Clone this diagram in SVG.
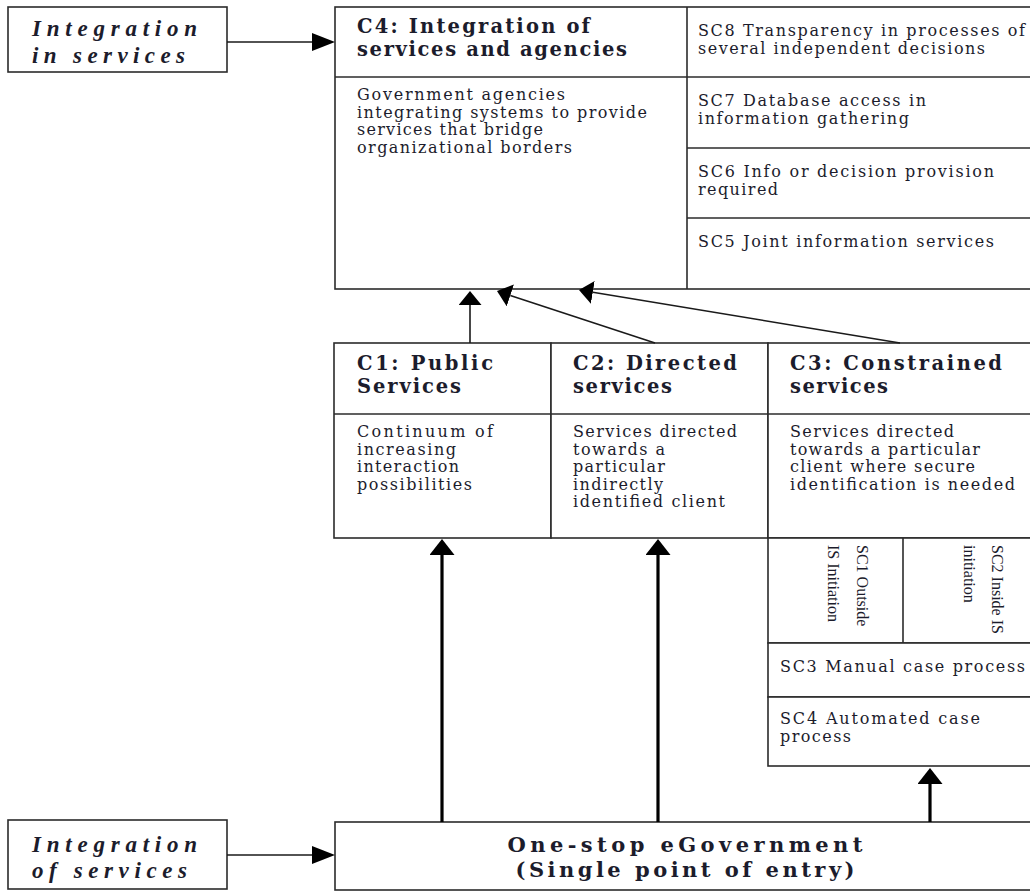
<svg xmlns="http://www.w3.org/2000/svg" width="1030" height="892" viewBox="0 0 1030 892">
<style>
.box{fill:#fff;stroke:#2b2b2b;stroke-width:1.6}
.ln{stroke:#2b2b2b;stroke-width:1.6;fill:none}
.t{font-family:"DejaVu Serif",serif;font-size:16px;fill:#1c1c2c}
.h{font-family:"DejaVu Serif",serif;font-size:19.5px;font-weight:bold;fill:#1c1c2c}
.r{font-family:"Liberation Serif",serif;font-size:16px;fill:#1c1c2c}
.it{font-family:"Liberation Serif",serif;font-size:23px;font-weight:bold;font-style:italic;fill:#1c1c2c}
.big{font-family:"DejaVu Serif",serif;font-size:21px;font-weight:bold;fill:#1c1c2c}
.thin{stroke:#1a1a1a;stroke-width:1.6;fill:none}
.thick{stroke:#000;stroke-width:3.2;fill:none}
</style>
<defs>
<marker id="ahS" viewBox="0 0 14 23" refX="0" refY="11.5" markerWidth="14" markerHeight="23" markerUnits="userSpaceOnUse" orient="auto"><path d="M0,0 L14,11.5 L0,23 Z" fill="#000"/></marker>
<marker id="ahB" viewBox="0 0 16 25" refX="0" refY="12.5" markerWidth="16" markerHeight="25" markerUnits="userSpaceOnUse" orient="auto"><path d="M0,0 L16,12.5 L0,25 Z" fill="#000"/></marker>
<marker id="ahH" viewBox="0 0 23 18" refX="0" refY="9" markerWidth="23" markerHeight="18" markerUnits="userSpaceOnUse" orient="auto"><path d="M0,0 L23,9 L0,18 Z" fill="#000"/></marker>
</defs>
<rect width="1030" height="892" fill="#fff"/>

<g id="integration-in">
<rect class="box" x="8" y="7" width="219" height="65"/>
<text class="it" x="32" y="36" textLength="165" lengthAdjust="spacing">Integration</text>
<text class="it" x="32" y="63" textLength="153" lengthAdjust="spacing">in services</text>
</g>

<g id="c4">
<rect class="box" x="335" y="7" width="710" height="282"/>
<line class="ln" x1="687" y1="7" x2="687" y2="289"/>
<line class="ln" x1="335" y1="77" x2="687" y2="77"/>
<text class="h" x="357" y="33" textLength="233" lengthAdjust="spacing">C4: Integration of</text>
<text class="h" x="357" y="56" textLength="270" lengthAdjust="spacing">services and agencies</text>
<text class="t" x="357" y="100" textLength="208" lengthAdjust="spacing">Government agencies</text>
<text class="t" x="357" y="117.5" textLength="290" lengthAdjust="spacing">integrating systems to provide</text>
<text class="t" x="357" y="135" textLength="186" lengthAdjust="spacing">services that bridge</text>
<text class="t" x="357" y="152.5" textLength="215" lengthAdjust="spacing">organizational borders</text>
</g>

<g id="sc8">
<text class="t" x="698" y="36" textLength="327" lengthAdjust="spacing">SC8 Transparency in processes of</text>
<text class="t" x="698" y="53.5" textLength="287" lengthAdjust="spacing">several independent decisions</text>
</g>
<g id="sc7">
<line class="ln" x1="687" y1="77" x2="1035" y2="77"/>
<text class="t" x="698" y="106" textLength="228" lengthAdjust="spacing">SC7 Database access in</text>
<text class="t" x="698" y="123.5" textLength="211" lengthAdjust="spacing">information gathering</text>
</g>
<g id="sc6">
<line class="ln" x1="687" y1="148" x2="1035" y2="148"/>
<text class="t" x="698" y="177" textLength="296" lengthAdjust="spacing">SC6 Info or decision provision</text>
<text class="t" x="698" y="194.5" textLength="80" lengthAdjust="spacing">required</text>
</g>
<g id="sc5">
<line class="ln" x1="687" y1="218" x2="1035" y2="218"/>
<text class="t" x="698" y="247" textLength="296" lengthAdjust="spacing">SC5 Joint information services</text>
</g>

<g id="c1">
<rect class="box" x="334" y="343" width="217" height="195"/>
<line class="ln" x1="334" y1="414" x2="551" y2="414"/>
<text class="h" x="357" y="370" textLength="136" lengthAdjust="spacing">C1: Public</text>
<text class="h" x="357" y="393" textLength="104" lengthAdjust="spacing">Services</text>
<text class="t" x="357" y="437" textLength="136" lengthAdjust="spacing">Continuum of</text>
<text class="t" x="357" y="454.5" textLength="99" lengthAdjust="spacing">increasing</text>
<text class="t" x="357" y="472" textLength="102" lengthAdjust="spacing">interaction</text>
<text class="t" x="357" y="489.5" textLength="115" lengthAdjust="spacing">possibilities</text>
</g>

<g id="c2">
<rect class="box" x="551" y="343" width="217" height="195"/>
<line class="ln" x1="551" y1="414" x2="768" y2="414"/>
<text class="h" x="573" y="370" textLength="164" lengthAdjust="spacing">C2: Directed</text>
<text class="h" x="573" y="393" textLength="99" lengthAdjust="spacing">services</text>
<text class="t" x="573" y="437" textLength="164" lengthAdjust="spacing">Services directed</text>
<text class="t" x="573" y="454.5" textLength="92" lengthAdjust="spacing">towards a</text>
<text class="t" x="573" y="472" textLength="92" lengthAdjust="spacing">particular</text>
<text class="t" x="573" y="489.5" textLength="90" lengthAdjust="spacing">indirectly</text>
<text class="t" x="573" y="507" textLength="152" lengthAdjust="spacing">identified client</text>
</g>

<g id="c3">
<rect class="box" x="768" y="343" width="270" height="195"/>
<line class="ln" x1="768" y1="414" x2="1035" y2="414"/>
<text class="h" x="790" y="370" textLength="212" lengthAdjust="spacing">C3: Constrained</text>
<text class="h" x="790" y="393" textLength="98" lengthAdjust="spacing">services</text>
<text class="t" x="790" y="437" textLength="164" lengthAdjust="spacing">Services directed</text>
<text class="t" x="790" y="454.5" textLength="190" lengthAdjust="spacing">towards a particular</text>
<text class="t" x="790" y="472" textLength="185" lengthAdjust="spacing">client where secure</text>
<text class="t" x="790" y="489.5" textLength="225" lengthAdjust="spacing">identification is needed</text>
</g>

<g id="sc1-sc2">
<rect class="box" x="768" y="538" width="270" height="105"/>
<line class="ln" x1="903" y1="538" x2="903" y2="643"/>
<text class="r" transform="translate(857,545) rotate(90)">SC1 Outside</text>
<text class="r" transform="translate(828,545) rotate(90)">IS Initiation</text>
<text class="r" transform="translate(992,545) rotate(90)">SC2 Inside IS</text>
<text class="r" transform="translate(964,545) rotate(90)">initiation</text>
</g>

<g id="sc3">
<rect class="box" x="768" y="643" width="270" height="54"/>
<text class="t" x="780" y="672" textLength="245" lengthAdjust="spacing">SC3 Manual case process</text>
</g>

<g id="sc4">
<rect class="box" x="768" y="697" width="270" height="69"/>
<text class="t" x="780" y="724" textLength="200" lengthAdjust="spacing">SC4 Automated case</text>
<text class="t" x="780" y="741.5" textLength="71" lengthAdjust="spacing">process</text>
</g>

<g id="integration-of">
<rect class="box" x="8" y="820" width="219" height="69"/>
<text class="it" x="32" y="852" textLength="165" lengthAdjust="spacing">Integration</text>
<text class="it" x="32" y="878" textLength="155" lengthAdjust="spacing">of services</text>
</g>

<g id="one-stop">
<rect class="box" x="335" y="822" width="710" height="68"/>
<text class="big" x="685" y="852" text-anchor="middle" textLength="355" lengthAdjust="spacing">One-stop eGovernment</text>
<text class="big" x="685" y="877" text-anchor="middle" textLength="339" lengthAdjust="spacing">(Single point of entry)</text>
</g>

<g id="connectors">
<line class="thin" x1="227" y1="42" x2="312" y2="42" marker-end="url(#ahH)"/>
<line class="thin" x1="227" y1="855" x2="312" y2="855" marker-end="url(#ahH)"/>
<line class="thin" x1="470" y1="343" x2="470" y2="305" marker-end="url(#ahS)"/>
<line class="thin" x1="655" y1="343" x2="510.3" y2="295.4" marker-end="url(#ahS)"/>
<line class="thin" x1="900" y1="343" x2="592.8" y2="292.3" marker-end="url(#ahS)"/>
<line class="thick" x1="442" y1="822" x2="442" y2="555" marker-end="url(#ahB)"/>
<line class="thick" x1="658" y1="822" x2="658" y2="555" marker-end="url(#ahB)"/>
<line class="thick" x1="930" y1="822" x2="930" y2="784" marker-end="url(#ahB)"/>
</g>
</svg>
